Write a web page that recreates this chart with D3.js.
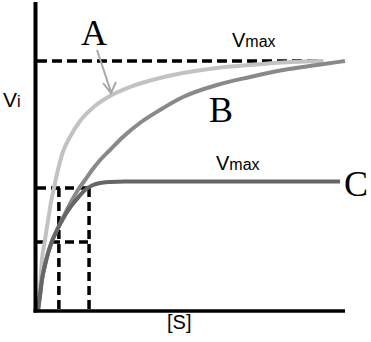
<!DOCTYPE html>
<html>
<head>
<meta charset="utf-8">
<script src="https://cdn.jsdelivr.net/npm/d3@7"></script>
<style>
  html, body { margin: 0; padding: 0; background: #fff; }
  svg { display: block; }
</style>
</head>
<body>
<svg id="chart" width="371" height="342"></svg>
<script>
// [S] in arbitrary units (0..10), v relative to Vmax of A/B (0..1)
const curveA = [
  [0.03, 0], [0.10, 0.104], [0.16, 0.204], [0.26, 0.284], [0.36, 0.364],
  [0.45, 0.432], [0.55, 0.492], [0.68, 0.564], [0.84, 0.636], [1.07, 0.696],
  [1.40, 0.76], [1.88, 0.82], [2.37, 0.86], [3.02, 0.896], [3.99, 0.932],
  [4.74, 0.952], [5.84, 0.972], [6.92, 0.984], [7.99, 0.994], [9.30, 1.0]
]
const curveB = [
  [0.03, 0], [0.10, 0.064], [0.16, 0.124], [0.26, 0.184], [0.36, 0.232],
  [0.49, 0.28], [0.65, 0.324], [0.81, 0.364], [0.97, 0.404], [1.14, 0.444],
  [1.33, 0.484], [1.56, 0.524], [1.79, 0.564], [2.05, 0.604], [2.37, 0.644],
  [2.79, 0.696], [3.34, 0.752], [3.99, 0.804], [4.74, 0.856], [5.84, 0.904],
  [6.92, 0.936], [7.99, 0.964], [9.09, 0.984], [10.0, 1.0]
]
const curveC = [
  [0.03, 0], [0.10, 0.064], [0.16, 0.124], [0.26, 0.184], [0.36, 0.232],
  [0.49, 0.28], [0.65, 0.324], [0.84, 0.368], [1.04, 0.408], [1.27, 0.444],
  [1.56, 0.484], [1.82, 0.504], [2.05, 0.512], [2.37, 0.516], [2.86, 0.518],
  [9.84, 0.518]
]
// dashed guides: Vmax line, C's Vmax and half Vmax, Km markers
const vmax = 1.0
const vmaxEnd = 9.25
const guideLevels = [0.492, 0.276]
const kmValues = [0.71, 1.69]

const svg = d3.select('#chart')

const x = d3.scaleLinear().domain([0, 10]).range([37, 345])
const y = d3.scaleLinear().domain([0, 1]).range([311, 61])

const line = d3.line()
  .x((d) => x(d[0]))
  .y((d) => y(d[1]))
  .curve(d3.curveMonotoneX)

// Vmax dashed (A, B)
svg.append('line')
  .attr('x1', x(0)).attr('x2', x(vmaxEnd))
  .attr('y1', y(vmax)).attr('y2', y(vmax))
  .attr('stroke', '#000').attr('stroke-width', 3.5)
  .attr('stroke-dasharray', '10,5')

// lower guides
guideLevels.forEach((v) => {
  svg.append('line')
    .attr('x1', x(0)).attr('x2', x(kmValues[1]))
    .attr('y1', y(v)).attr('y2', y(v))
    .attr('stroke', '#000').attr('stroke-width', 3.5)
    .attr('stroke-dasharray', '9,5')
})
kmValues.forEach((k) => {
  svg.append('line')
    .attr('x1', x(k)).attr('x2', x(k))
    .attr('y1', y(guideLevels[0])).attr('y2', y(0))
    .attr('stroke', '#000').attr('stroke-width', 3.5)
    .attr('stroke-dasharray', '9,5')
})

// curves
const curves = [
  { data: curveA, color: '#c2c2c2' },
  { data: curveB, color: '#898989' },
  { data: curveC, color: '#666666' }
]
svg.selectAll('path.curve')
  .data(curves)
  .join('path')
  .attr('class', 'curve')
  .attr('d', (d) => line(d.data))
  .attr('fill', 'none')
  .attr('stroke', (d) => d.color)
  .attr('stroke-width', 4)

// axes
svg.append('line')
  .attr('x1', 35.5).attr('x2', 35.5)
  .attr('y1', 2).attr('y2', 312.5)
  .attr('stroke', '#000').attr('stroke-width', 4)
svg.append('line')
  .attr('x1', 33.5).attr('x2', x(10))
  .attr('y1', 311).attr('y2', 311)
  .attr('stroke', '#000').attr('stroke-width', 3.5)

// arrow to curve A
svg.append('path')
  .attr('d', 'M97,50 L111,92 M103,83 L111,93 L116,82')
  .attr('fill', 'none')
  .attr('stroke', '#a8a8a8')
  .attr('stroke-width', 2)

const sans = 'Liberation Sans, Arial, sans-serif'
const serif = 'Liberation Serif, Times New Roman, serif'

// curve labels
;[['A', 81, 45], ['B', 209, 122], ['C', 344, 196]].forEach(([t, tx, ty]) => {
  svg.append('text')
    .attr('x', tx).attr('y', ty)
    .attr('font-family', serif)
    .attr('font-size', 36)
    .attr('fill', '#000')
    .text(t)
})

// Vmax labels
;[[232, 47], [216, 170]].forEach(([tx, ty]) => {
  const t = svg.append('text')
    .attr('x', tx).attr('y', ty)
    .attr('font-family', sans)
    .attr('fill', '#000')
  t.append('tspan').attr('font-size', 20).text('V')
  t.append('tspan').attr('font-size', 16).text('max')
})

// axis titles
const vi = svg.append('text')
  .attr('x', 3).attr('y', 107)
  .attr('font-family', sans)
  .attr('fill', '#000')
vi.append('tspan').attr('font-size', 21).text('V')
vi.append('tspan').attr('font-size', 16).text('i')

svg.append('text')
  .attr('x', 167).attr('y', 329)
  .attr('font-family', sans)
  .attr('font-size', 20)
  .attr('fill', '#000')
  .text('[S]')
</script>
</body>
</html>
